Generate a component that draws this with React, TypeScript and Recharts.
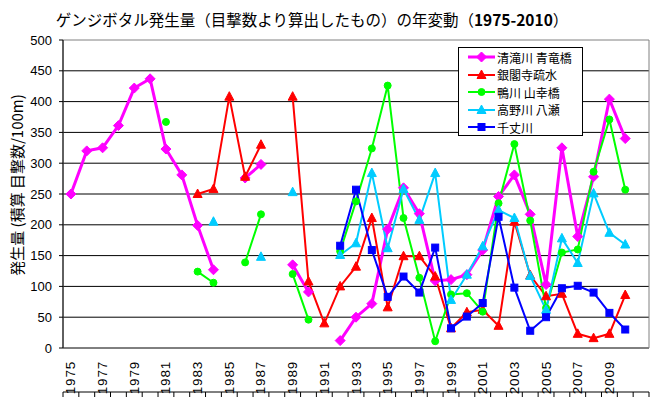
import React from 'react';
import { LineChart, Line, XAxis, YAxis, CartesianGrid, ReferenceArea } from 'recharts';

const years = [1975, 1976, 1977, 1978, 1979, 1980, 1981, 1982, 1983, 1984, 1985, 1986, 1987, 1988, 1989, 1990, 1991, 1992, 1993, 1994, 1995, 1996, 1997, 1998, 1999, 2000, 2001, 2002, 2003, 2004, 2005, 2006, 2007, 2008, 2009, 2010];

const seiryubashi = [250, 320, 325, 361, 422, 437, 323, 281, 199, 127, null, 276, 298, null, 135, 91, null, 12, 50, 72, 193, 260, 218, 109, 111, 119, 159, 246, 281, 217, 103, 325, 181, 278, 404, 340];
const ginkakuji = [null, null, null, null, null, null, null, null, 250, 258, 408, 278, 330, null, 408, 108, 40, 100, 132, 211, 66, 149, 149, 116, 32, 58, 62, 36, 205, 118, 84, 88, 23, 16, 23, 86];
const yamasachi = [null, null, null, null, null, null, 367, null, 124, 106, null, 139, 217, null, 120, 46, null, 157, 238, 324, 426, 211, 114, 11, 87, 89, 59, 235, 331, 207, 65, 155, 160, 286, 371, 257];
const yase = [null, null, null, null, null, null, null, null, null, 205, null, null, 148, null, 253, null, null, 151, 170, 284, 162, 258, 208, 284, 78, 119, 165, 224, 211, 117, 62, 178, 138, 251, 187, 168];
const senjo = [null, null, null, null, null, null, null, null, null, null, null, null, null, null, null, null, null, 166, 257, 159, 83, 116, 90, 163, 32, 51, 73, 213, 98, 28, 50, 97, 101, 90, 57, 30];

const seriesNames = ['清滝川 青竜橋', '銀閣寺疏水', '鴨川 山幸橋', '高野川 八瀬', '千丈川'];
const seriesKeys = ['s0', 's1', 's2', 's3', 's4'];
const seriesColors = ['#FF00FF', '#FF0000', '#00FF00', '#00CCFF', '#0000FF'];
const seriesWidths = [3, 2, 2, 2, 2];
const seriesShapes = ['diamond', 'triangle', 'circle', 'triangle', 'square'];

const yTicks = [0, 50, 100, 150, 200, 250, 300, 350, 400, 450, 500];
const gridValues = [0, 50, 100, 150, 200, 250, 300, 350, 400, 450];
const xLabelTicks = [1975, 1977, 1979, 1981, 1983, 1985, 1987, 1989, 1991, 1993, 1995, 1997, 1999, 2001, 2003, 2005, 2007, 2009];
const xBoundaryTicks = [...years.map((y) => y - 0.5), 2010.5, 2011.5];
const xDomain = [1974.5, 2011.5];

const data = years.map((year, i) => ({
  year,
  s0: seiryubashi[i],
  s1: ginkakuji[i],
  s2: yamasachi[i],
  s3: yase[i],
  s4: senjo[i],
}));

const FONT_NUM = '"Liberation Sans", Arial, sans-serif';
const FONT_JP = '"Noto Sans CJK JP", "Noto Sans", sans-serif';

function Marker({ shape, color, cx, cy }: { shape: string; color: string; cx: number; cy: number }) {
  if (shape === 'diamond') {
    const r = 5;
    return <polygon points={`${cx},${cy - r} ${cx + r},${cy} ${cx},${cy + r} ${cx - r},${cy}`} fill={color} stroke={color} strokeWidth={1} />;
  }
  if (shape === 'triangle') {
    return <polygon points={`${cx},${cy - 5} ${cx + 4.5},${cy + 3.5} ${cx - 4.5},${cy + 3.5}`} fill={color} stroke={color} strokeWidth={1} />;
  }
  if (shape === 'circle') {
    return <circle cx={cx} cy={cy} r={3.5} fill={color} stroke={color} strokeWidth={1} />;
  }
  return <rect x={cx - 3.5} y={cy - 3.5} width={7} height={7} fill={color} stroke={color} strokeWidth={1} />;
}

const makeDot = (shape: string, color: string) => (props: any) => {
  const { cx, cy, value, index } = props;
  if (value == null || cx == null || cy == null || isNaN(cy)) return <g key={`d-${index}`} />;
  return (
    <g key={`d-${index}`}>
      <Marker shape={shape} color={color} cx={cx} cy={cy} />
    </g>
  );
};

const NoTick = () => <g />;

const XTick = (props: any) => {
  const { x, y, payload } = props;
  return (
    <g transform={`translate(${x},${y})`}>
      <text
        transform="rotate(-90)"
        x={-5}
        y={0}
        textAnchor="end"
        dominantBaseline="central"
        fontFamily={FONT_NUM}
        fontSize={13.5}
        fill="#000"
        letterSpacing={0.8}
      >
        {payload.value}
      </text>
    </g>
  );
};

const LegendBox = () => (
  <div
    style={{
      position: 'absolute',
      left: 458,
      top: 47,
      width: 125,
      height: 89,
      border: '1px solid #000',
      background: '#fff',
      boxSizing: 'border-box',
      paddingTop: 0.5,
    }}
  >
    {seriesNames.map((name, i) => (
      <div key={name} style={{ display: 'flex', alignItems: 'center', height: 17.5 }}>
        <svg width={38} height={14} style={{ display: 'block', flex: 'none' }}>
          <line x1={9} y1={7} x2={36} y2={7} stroke={seriesColors[i]} strokeWidth={seriesWidths[i]} />
          <Marker shape={seriesShapes[i]} color={seriesColors[i]} cx={22.5} cy={7} />
        </svg>
        <span style={{ fontFamily: FONT_JP, fontSize: 12, color: '#000', lineHeight: '17px', whiteSpace: 'nowrap' }}>{name}</span>
      </div>
    ))}
  </div>
);

export default function App() {
  return (
    <div style={{ position: 'absolute', left: 0, top: 0, width: 658, height: 401, background: '#fff' }}>
      <div
        style={{
          position: 'absolute',
          left: 0,
          top: 8,
          width: 624,
          textAlign: 'center',
          fontFamily: FONT_JP,
          fontSize: 15.5,
          lineHeight: '22px',
          color: '#000',
          whiteSpace: 'nowrap',
        }}
      >
        ゲンジボタル発生量（目撃数より算出したもの）の年変動（<b>1975-2010</b>）
      </div>
      <div
        style={{
          position: 'absolute',
          left: 16,
          top: 185,
          transform: 'translate(-50%, -50%) rotate(-90deg)',
          fontFamily: FONT_JP,
          fontSize: 15,
          whiteSpace: 'nowrap',
          color: '#000',
        }}
      >
        発生量 (積算 目撃数/100m)
      </div>
      <div style={{ position: 'absolute', left: 0, top: 0 }}>
        <LineChart width={658} height={401} data={data} margin={{ top: 40, right: 9, bottom: 8, left: 13 }}>
          <CartesianGrid
            xAxisId="lab"
            yAxisId="y"
            vertical={false}
            horizontal
            horizontalValues={gridValues}
            stroke="#000"
            strokeWidth={1}
          />
          <ReferenceArea
            xAxisId="lab"
            yAxisId="y"
            x1={xDomain[0]}
            x2={xDomain[1]}
            y1={0}
            y2={500}
            fill="none"
            stroke="#808080"
            strokeWidth={1}
            ifOverflow="visible"
          />
          <XAxis
            xAxisId="tk"
            type="number"
            dataKey="year"
            domain={xDomain}
            ticks={xBoundaryTicks}
            interval={0}
            tick={NoTick}
            tickSize={5}
            height={1}
            axisLine={{ stroke: '#000' }}
            tickLine={{ stroke: '#000' }}
            allowDataOverflow
          />
          <XAxis
            xAxisId="lab"
            type="number"
            dataKey="year"
            domain={xDomain}
            ticks={xLabelTicks}
            interval={0}
            tick={XTick}
            tickLine={false}
            axisLine={false}
            height={44}
            allowDataOverflow
          />
          <YAxis
            yAxisId="y"
            domain={[0, 500]}
            ticks={yTicks}
            interval={0}
            width={50}
            tickSize={4}
            tickMargin={7}
            axisLine={{ stroke: '#000' }}
            tickLine={{ stroke: '#000' }}
            tick={{ fontFamily: FONT_NUM, fontSize: 13, fill: '#000' }}
          />
          {seriesKeys.map((key, i) => (
            <Line
              key={key}
              xAxisId="lab"
              yAxisId="y"
              type="linear"
              dataKey={key}
              name={seriesNames[i]}
              stroke={seriesColors[i]}
              strokeWidth={seriesWidths[i]}
              dot={makeDot(seriesShapes[i], seriesColors[i])}
              activeDot={false}
              connectNulls={false}
              isAnimationActive={false}
            />
          ))}
        </LineChart>
      </div>
      <LegendBox />
    </div>
  );
}
